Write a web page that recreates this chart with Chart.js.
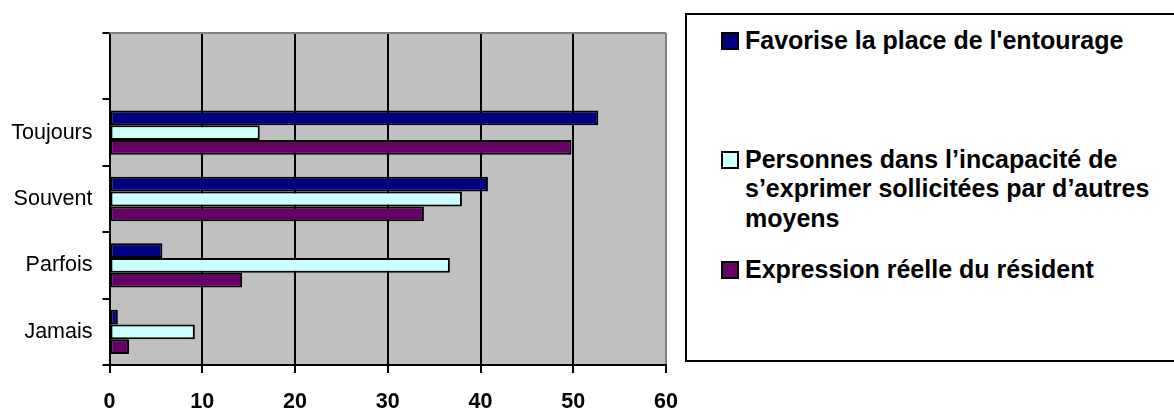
<!DOCTYPE html>
<html>
<head>
<meta charset="utf-8">
<script src="https://cdn.jsdelivr.net/npm/chart.js@4.4.1/dist/chart.umd.min.js"></script>
<style>
  html, body { margin: 0; padding: 0; background: #fff; overflow: hidden; }
  #wrap { position: relative; width: 1174px; height: 412px; }
  #chart { position: absolute; left: 0; top: 0; }
  #legend {
    position: absolute; left: 685px; top: 13px; width: 500px; height: 349px;
    border: 2px solid #000; box-sizing: border-box; background: #fff;
  }
  .entry {
    position: absolute; left: 34px; display: flex; align-items: flex-start;
    font: bold 25px Arial, "Liberation Sans", sans-serif; line-height: 29.7px; color: #000;
  }
  .swatch {
    width: 18px; height: 18px; box-sizing: border-box; border: 2px solid #000;
    margin-top: 6px; margin-right: 6px; flex: none;
  }
  .label { width: 430px; }
</style>
</head>
<body>
<div id="wrap">
  <canvas id="chart" width="1174" height="412"></canvas>
  <div id="legend"></div>
</div>
<script>
// Response categories (the first row is an unlabelled blank row)
const categories = ['', 'Toujours', 'Souvent', 'Parfois', 'Jamais'];

// Series names
const seriesNames = [
  "Favorise la place de l'entourage",
  "Personnes dans l\u2019incapacit\u00e9 de s\u2019exprimer sollicit\u00e9es par d\u2019autres moyens",
  "Expression r\u00e9elle du r\u00e9sident"
];

// Values per series, in category order
const entourage  = [null, 52.7, 40.8, 5.7, 0.9];
const autresMoyens = [null, 16.2, 38.0, 36.7, 9.2];
const expression = [null, 49.8, 33.9, 14.3, 2.1];

// Value axis ticks
const xTicks = [0, 10, 20, 30, 40, 50, 60];

const seriesColors = ['#000080', '#CCFFFF', '#660066'];
const seriesData = [entourage, autresMoyens, expression];

const FONT = 'Arial, "Liberation Sans", sans-serif';

// Grey plot background and top frame line
const plotFrame = {
  id: 'plotFrame',
  beforeDraw(chart) {
    const a = chart.chartArea, ctx = chart.ctx;
    ctx.save();
    ctx.fillStyle = '#C0C0C0';
    ctx.fillRect(a.left, a.top, a.right - a.left, a.bottom - a.top);
    ctx.restore();
  },
  beforeDatasetsDraw(chart) {
    const a = chart.chartArea, ctx = chart.ctx;
    ctx.save();
    ctx.strokeStyle = '#808080';
    ctx.lineWidth = 2;
    ctx.beginPath();
    ctx.moveTo(a.left, a.top);
    ctx.lineTo(a.right, a.top);
    ctx.stroke();
    ctx.restore();
  }
};

new Chart(document.getElementById('chart'), {
  type: 'bar',
  data: {
    labels: categories,
    datasets: seriesNames.map((name, i) => ({
      label: name,
      data: seriesData[i],
      backgroundColor: seriesColors[i],
      borderColor: '#000',
      borderWidth: 2,
      borderSkipped: false,
      categoryPercentage: 0.667,
      barPercentage: 1.0
    }))
  },
  options: {
    indexAxis: 'y',
    responsive: false,
    animation: false,
    devicePixelRatio: 1,
    layout: { padding: { top: 33, right: 508, bottom: 0, left: 0 } },
    plugins: { legend: { display: false }, tooltip: { enabled: false } },
    scales: {
      x: {
        type: 'linear',
        min: xTicks[0],
        max: xTicks[xTicks.length - 1],
        afterFit(scale) { scale.height = 47; },
        afterBuildTicks(scale) { scale.ticks = xTicks.map(v => ({ value: v })); },
        ticks: {
          color: '#000',
          font: { family: FONT, size: 21.5, weight: 'bold' },
          padding: 16,
          maxRotation: 0
        },
        grid: {
          color: ctx => (ctx.tick && ctx.tick.value === xTicks[xTicks.length - 1]) ? '#808080' : '#000',
          tickColor: '#000',
          lineWidth: 2,
          tickLength: 8
        },
        border: { display: true, color: '#000', width: 2 }
      },
      y: {
        type: 'category',
        afterFit(scale) { scale.width = 109.5; },
        ticks: {
          color: '#000',
          font: { family: FONT, size: 21.5 },
          padding: 10
        },
        grid: {
          offset: true,
          drawOnChartArea: false,
          color: '#000',
          lineWidth: 2,
          tickLength: 7
        },
        border: { display: true, color: '#000', width: 2 }
      }
    }
  },
  plugins: [plotFrame]
});

// Legend boxes, one per series
const legend = document.getElementById('legend');
const entryTops = [11, 129.6, 239.6];
seriesNames.forEach((name, i) => {
  const row = document.createElement('div');
  row.className = 'entry';
  row.style.top = entryTops[i] + 'px';
  const sw = document.createElement('div');
  sw.className = 'swatch';
  sw.style.background = seriesColors[i];
  const tx = document.createElement('div');
  tx.className = 'label';
  tx.textContent = name;
  row.appendChild(sw);
  row.appendChild(tx);
  legend.appendChild(row);
});
</script>
</body>
</html>
